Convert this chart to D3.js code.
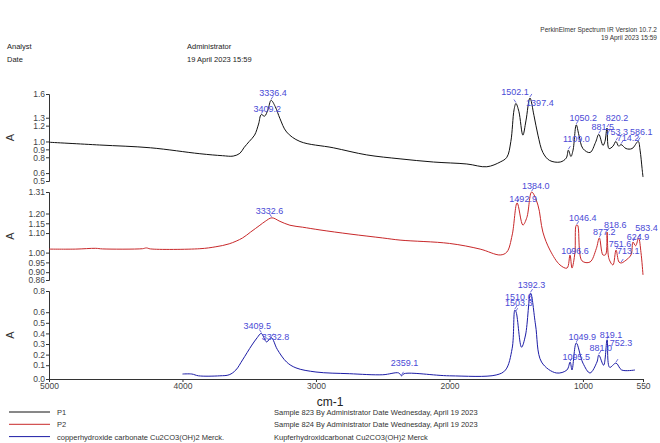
<!DOCTYPE html>
<html>
<head>
<meta charset="utf-8">
<script src="https://cdn.jsdelivr.net/npm/d3@7"></script>
<style>
  body { margin: 0; background: #fff; }
  svg { display: block; font-family: "Liberation Sans", Arial, sans-serif; }
</style>
</head>
<body>
<script>
// spectra, [wavenumber cm-1, absorbance]
const p1 = [[5000,0.99],[4620,0.955],[4240,0.92],[3870,0.845],[3700,0.82],[3620,0.815],[3570,0.85],[3540,0.92],
  [3500,1.0],[3460,1.08],[3430,1.22],[3410,1.34],[3385,1.32],[3360,1.40],[3336,1.52],[3305,1.44],[3270,1.29],
  [3220,1.12],[3120,1.0],[2870,0.92],[2620,0.83],[2370,0.78],[2120,0.74],[1870,0.715],[1720,0.68],[1620,0.74],
  [1570,0.80],[1540,1.0],[1516,1.40],[1502,1.48],[1480,1.38],[1450,1.08],[1427,1.26],[1397,1.55],[1367,1.33],
  [1337,1.08],[1300,0.86],[1250,0.76],[1170,0.74],[1125,0.79],[1109,0.89],[1090,0.81],[1074,0.89],[1050,1.21],
  [1030,1.08],[1000,0.91],[947,0.86],[905,0.99],[881,1.09],[850,0.95],[835,1.0],[820,1.17],[805,0.91],[775,0.94],
  [753,1.0],[732,0.94],[714,0.96],[677,0.91],[632,0.91],[586,1.0],[572,0.89],[557,0.66],[550,0.55]];

const p2 = [[5000,1.018],[4800,1.018],[4650,1.022],[4600,1.019],[4300,1.02],[4270,1.024],[4240,1.019],[3870,1.02],
  [3750,1.03],[3650,1.045],[3550,1.075],[3490,1.105],[3420,1.14],[3380,1.16],[3330,1.178],[3270,1.16],[3195,1.14],
  [3100,1.13],[2970,1.116],[2745,1.095],[2500,1.075],[2370,1.064],[2000,1.047],[1770,1.018],[1620,0.988],
  [1570,1.003],[1530,1.09],[1493,1.254],[1450,1.141],[1420,1.18],[1384,1.31],[1337,1.243],[1300,1.105],
  [1247,1.013],[1172,0.937],[1119,0.921],[1097,0.988],[1082,0.921],[1060,1.0],[1050,1.14],[1040,1.14],
  [1007,0.958],[947,0.952],[900,1.02],[877,1.075],[850,0.988],[830,0.99],[819,1.105],[805,0.969],[775,0.937],
  [752,1.013],[730,0.952],[713,0.947],[690,0.955],[640,0.988],[625,1.054],[605,1.035],[583,1.075],[565,1.0],[550,0.886]];

const cu = [[4000,0.017],[3930,0.017],[3880,0.0],[3720,0.0],[3650,0.01],[3600,0.055],[3550,0.15],[3480,0.29],
  [3440,0.36],[3410,0.40],[3370,0.32],[3335,0.36],[3290,0.25],[3220,0.13],[3150,0.075],[3000,0.036],[2750,0.02],
  [2500,0.01],[2380,0.027],[2359,0.0],[2340,0.02],[2000,0.0],[1650,0.008],[1580,0.055],[1530,0.26],[1510,0.62],
  [1500,0.60],[1460,0.27],[1430,0.385],[1392,0.78],[1355,0.48],[1310,0.13],[1200,0.027],[1120,0.055],[1096,0.13],
  [1082,0.055],[1050,0.31],[1000,0.12],[947,0.027],[895,0.13],[881,0.196],[845,0.10],[819,0.34],[800,0.08],
  [752,0.12],[710,0.055],[610,0.055]];

// peak labels [wavenumber, text]
const p1Peaks = [[3409.2,"3409.2"],[3336.4,"3336.4"],[1502.1,"1502.1"],[1397.4,"1397.4"],[1109.0,"1109.0"],
  [1050.2,"1050.2"],[881.5,"881.5"],[820.2,"820.2"],[753.3,"753.3"],[714.2,"714.2"],[586.1,"586.1"]];
const p2Peaks = [[3332.6,"3332.6"],[1492.9,"1492.9"],[1384.0,"1384.0"],[1096.6,"1096.6"],[1046.4,"1046.4"],
  [877.2,"877.2"],[818.6,"818.6"],[751.6,"751.6"],[713.1,"713.1"],[624.9,"624.9"],[583.4,"583.4"]];
const cuPeaks = [[3409.5,"3409.5"],[3332.8,"3332.8"],[2359.1,"2359.1"],[1510.6,"1510.6"],[1503.3,"1503.3"],
  [1392.3,"1392.3"],[1095.5,"1095.5"],[1049.9,"1049.9"],[881.0,"881.0"],[819.1,"819.1"],[752.3,"752.3"]];

// label offsets from the peak point (px)
const p1Off = [[6,-6],[2,-7],[-1,-11],[10,5],[8,-11],[7,-7],[4,-7],[10,-10],[1,-9],[7,-7],[3,-9]];
const p2Off = [[-2,-7],[6,-4],[4,-6],[5,-4],[6,-7],[5,-6],[8,-7],[4,-6],[7,-12],[5,-5],[8,-10]];
const cuOff = [[-4,-7],[4,-1],[3,-13],[4,-13],[3,-9],[1,-8],[6,-5],[6,-6],[2,-7],[4,-5],[5,-20]];

const wnTicks = [5000, 4000, 3000, 2000, 1000, 550];
const p1Ticks = [1.6, 1.3, 1.2, 1.0, 0.9, 0.8, 0.6, 0.5];
const p2Ticks = [1.31, 1.20, 1.15, 1.10, 1.00, 0.95, 0.90, 0.86];
const cuTicks = [0.8, 0.6, 0.5, 0.4, 0.3, 0.2, 0.1, -0.03];

const legendNames = ["P1", "P2", "copperhydroxide carbonate Cu2CO3(OH)2 Merck."];
const legendNotes = ["Sample 823 By Administrator Date Wednesday, April 19 2023",
  "Sample 824 By Administrator Date Wednesday, April 19 2023",
  "Kupferhydroxidcarbonat Cu2CO3(OH)2 Merck"];

const width = 660, height = 443;
const labelColor = "#4a4ad6";

const svg = d3.select("body").append("svg")
    .attr("width", width)
    .attr("height", height);

svg.append("rect").attr("width", width).attr("height", height).attr("fill", "#fff");

const x = d3.scaleLinear().domain([5000, 550]).range([49, 643]);

const panels = [
    {data: p1, peaks: p1Peaks, off: p1Off, ticks: p1Ticks, fmt: d3.format(".1f"),
     y: d3.scaleLinear().domain([0.5, 1.6]).range([181, 94]), color: "#111"},
    {data: p2, peaks: p2Peaks, off: p2Off, ticks: p2Ticks, fmt: d3.format(".2f"),
     y: d3.scaleLinear().domain([0.86, 1.31]).range([280, 192]), color: "#c8282a"},
    {data: cu, peaks: cuPeaks, off: cuOff, ticks: cuTicks, fmt: d3.format(".1f"),
     y: d3.scaleLinear().domain([-0.03, 0.8]).range([379, 291]), color: "#1c1ca6"}
];

panels.forEach(p => {
    const ax = svg.append("g")
        .attr("transform", "translate(49,0)")
        .call(d3.axisLeft(p.y).tickValues(p.ticks).tickFormat(p.fmt).tickSize(3).tickPadding(1));
    ax.select(".domain").attr("stroke", "#333");
    ax.selectAll(".tick line").attr("stroke", "#333");
    ax.selectAll("text").attr("font-size", 8.5).attr("fill", "#444")
        .attr("font-family", "Liberation Sans, Arial, sans-serif");

    const r = p.y.range();
    svg.append("text")
        .attr("transform", `translate(14,${(r[0] + r[1]) / 2}) rotate(-90)`)
        .attr("text-anchor", "middle")
        .attr("font-size", 11)
        .attr("fill", "#333")
        .text("A");

    const line = d3.line()
        .x(d => x(d[0]))
        .y(d => p.y(d[1]))
        .curve(d3.curveCatmullRom.alpha(0.5));

    svg.append("path")
        .datum(p.data)
        .attr("d", line)
        .attr("fill", "none")
        .attr("stroke", p.color)
        .attr("stroke-width", 1);

    // peak labels
    p.peaks.forEach((pk, i) => {
        const near = p.data.reduce((a, b) => Math.abs(b[0] - pk[0]) < Math.abs(a[0] - pk[0]) ? b : a);
        const px = x(pk[0]), py = p.y(near[1]);
        const o = p.off[i];
        svg.append("line")
            .attr("x1", px).attr("y1", py - 1)
            .attr("x2", px + (o[0] > 0 ? 2 : -2)).attr("y2", py - 4)
            .attr("stroke", labelColor).attr("stroke-width", 0.8);
        svg.append("text")
            .attr("x", px + o[0])
            .attr("y", py + o[1] + 3)
            .attr("text-anchor", "middle")
            .attr("font-size", 9)
            .attr("fill", labelColor)
            .text(pk[1]);
    });
});

// wavenumber axis
const xa = svg.append("g")
    .attr("transform", "translate(0,379)")
    .call(d3.axisBottom(x).tickValues(wnTicks).tickFormat(d3.format("d")).tickSize(3).tickPadding(1));
xa.select(".domain").attr("stroke", "#333");
xa.selectAll(".tick line").attr("stroke", "#333");
xa.selectAll("text").attr("font-size", 8.5).attr("fill", "#444")
    .attr("font-family", "Liberation Sans, Arial, sans-serif");

svg.append("text")
    .attr("x", 330).attr("y", 406)
    .attr("text-anchor", "middle")
    .attr("font-size", 12)
    .attr("fill", "#222")
    .text("cm-1");

// header
const hdr = [["Analyst", 7, 49], ["Date", 7, 62], ["Administrator", 187, 49], ["19 April 2023 15:59", 187, 62]];
hdr.forEach(h => {
    svg.append("text").attr("x", h[1]).attr("y", h[2])
        .attr("font-size", 7.5).attr("fill", "#222").text(h[0]);
});
svg.append("text").attr("x", 657).attr("y", 32).attr("text-anchor", "end")
    .attr("font-size", 6.5).attr("fill", "#333").text("PerkinElmer Spectrum IR Version 10.7.2");
svg.append("text").attr("x", 657).attr("y", 40).attr("text-anchor", "end")
    .attr("font-size", 6.5).attr("fill", "#333").text("19 April 2023 15:59");

// legend
legendNames.forEach((n, i) => {
    const ly = 412 + i * 12.3;
    svg.append("line")
        .attr("x1", 9).attr("x2", 50).attr("y1", ly).attr("y2", ly)
        .attr("stroke", panels[i].color).attr("stroke-width", 1);
    svg.append("text").attr("x", 57).attr("y", ly + 3)
        .attr("font-size", 7.5).attr("fill", "#333").text(n);
    svg.append("text").attr("x", 274).attr("y", ly + 3)
        .attr("font-size", 7.5).attr("fill", "#333").text(legendNotes[i]);
});
</script>
</body>
</html>
